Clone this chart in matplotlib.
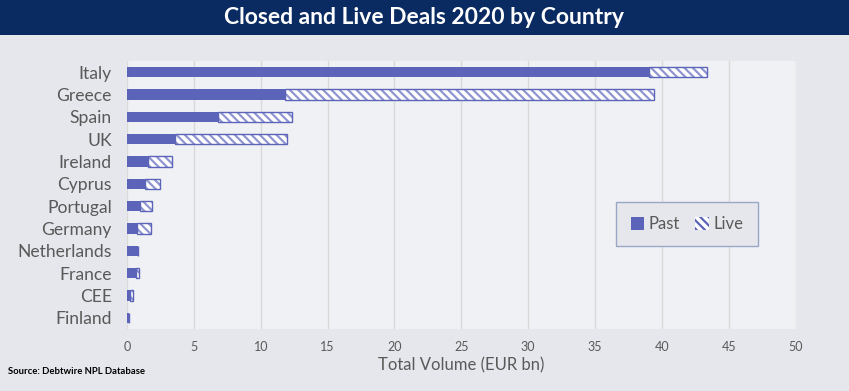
"""
Closed and Live Deals 2020 by Country
"""

import numpy as np
import matplotlib.pyplot as plt
from matplotlib.patches import Rectangle

plt.rcParams['font.family'] = ['Lato', 'DejaVu Sans']
plt.rcParams['hatch.linewidth'] = 1.6

# data (EUR bn)
countries = ['Italy', 'Greece', 'Spain', 'UK', 'Ireland', 'Cyprus', 'Portugal',
             'Germany', 'Netherlands', 'France', 'CEE', 'Finland']
past = [39.0, 11.8, 6.8, 3.6, 1.6, 1.35, 0.97, 0.72, 0.82, 0.65, 0.22, 0.15]
total = [43.4, 39.4, 12.3, 12.0, 3.4, 2.5, 1.85, 1.77, 0.82, 0.9, 0.42, 0.15]
live = [t - p for t, p in zip(total, past)]
xticks = [0, 5, 10, 15, 20, 25, 30, 35, 40, 45, 50]

PURPLE = '#5B64B8'
HATCH = '#8F95D0'
FIG_BG = '#E6E7EC'
AX_BG = '#F0F1F4'
NAVY = '#0A2B62'
GREY = '#595959'


def main():
    fig = plt.figure(figsize=(8.49, 3.91), dpi=100, facecolor=FIG_BG)
    ax = fig.add_axes([0.1496, 0.1586, 0.7876, 0.6854])
    ax.set_facecolor(AX_BG)

    y = np.arange(len(countries))
    ax.barh(y, past, height=0.45, color=PURPLE, label='Past', zorder=3)
    ax.barh(y, live, left=past, height=0.45, color='white', edgecolor=HATCH,
            hatch='\\\\\\\\', linewidth=0, label='Live', zorder=3)
    # outline of the live part
    ax.barh(y, live, left=past, height=0.45, color='none', edgecolor=PURPLE,
            linewidth=1.0, zorder=4)

    ax.set_ylim(len(countries) - 0.5, -0.5)
    ax.set_yticks(y)
    ax.set_yticklabels(countries, fontsize=12.6, color=GREY)
    ax.set_xlim(0, 50)
    ax.set_xticks(xticks)
    ax.set_xticklabels([str(v) for v in xticks], fontsize=9, color=GREY)
    ax.tick_params(axis='both', length=0)
    ax.tick_params(axis='x', pad=9)
    ax.tick_params(axis='y', pad=11)
    ax.set_xlabel('Total Volume (EUR bn)', fontsize=12, color=GREY, labelpad=3)

    ax.grid(axis='x', color='#D9D9D9', linewidth=1.0, zorder=0)
    for s in ax.spines.values():
        s.set_visible(False)

    leg = ax.legend(loc='upper left', bbox_to_anchor=(0.732, 0.474), fontsize=12,
                    ncol=2, frameon=True, fancybox=False, facecolor=FIG_BG,
                    edgecolor='#9AA8C8', handlelength=0.8, handleheight=0.8,
                    columnspacing=0.9, handletextpad=0.3, borderpad=0.85,
                    borderaxespad=0)
    leg.get_frame().set_linewidth(1.0)
    leg.get_frame().set_alpha(1)
    for t in leg.get_texts():
        t.set_color(GREY)
    h = leg.legend_handles[1]
    h.set_edgecolor(PURPLE)

    # title band
    fig.patches.append(Rectangle((0, 1 - 35 / 391), 1, 35 / 391,
                                 transform=fig.transFigure, facecolor=NAVY,
                                 edgecolor='none', zorder=0))
    fig.text(0.5, 1 - 17 / 391, 'Closed and Live Deals 2020 by Country',
             ha='center', va='center', color='white', fontsize=16.5,
             fontweight='bold')

    fig.text(8 / 849, 1 - 372 / 391, 'Source: Debtwire NPL Database',
             ha='left', va='center', color='black', fontsize=6.8,
             fontweight='bold')

    plt.savefig('out.png', dpi=100, facecolor=FIG_BG)


if __name__ == "__main__":
    main()
